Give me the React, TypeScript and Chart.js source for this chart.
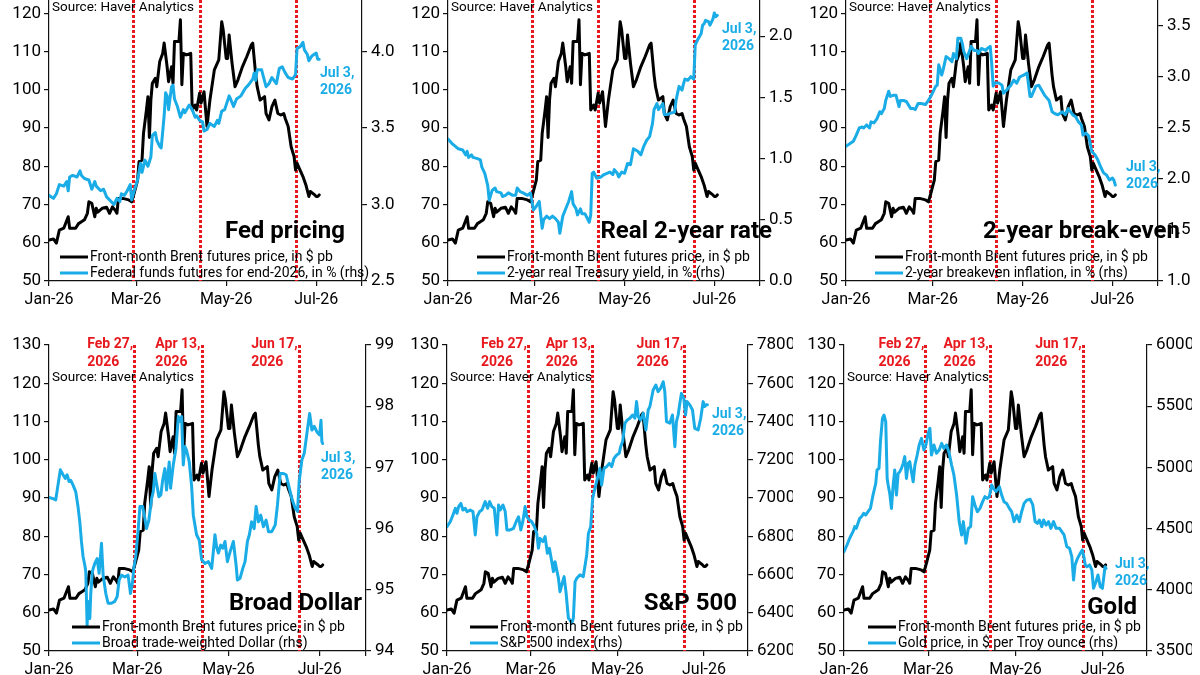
import React, { useEffect, useRef } from 'react';
import { Chart, registerables } from 'chart.js';

Chart.register(...registerables);

const FONT = 'Roboto, "Liberation Sans", sans-serif';
const BLACK = '#000000';
const BLUE = '#1AACE6';
const RED = '#E8191E';

// Horizontal positions are days since 1 Jan 2026.
const monthTickDays = [0, 59, 120, 181, 212];
const monthTickLabels = ['Jan-26', 'Mar-26', 'May-26', 'Jul-26', ''];
const eventDays = [57, 102, 167];
const eventLabels = [['Feb 27,', '2026'], ['Apr 13,', '2026'], ['Jun 17,', '2026']];
const lastDateLabel = ['Jul 3,', '2026'];
const sourceText = 'Source: Haver Analytics';
const brentLegend = 'Front-month Brent futures price, in $ pb';

// Front-month Brent futures, $ per barrel
const brentDay = [0, 3, 5, 7, 10, 13, 14, 18, 20, 22, 24, 26, 27, 29, 31, 32, 33, 36, 39, 41, 43, 45, 46, 47, 50, 54, 56, 58, 60, 61, 63, 64, 66, 67, 68, 69, 70, 72, 73, 75, 77, 78, 80, 81, 83, 84, 85, 88, 89, 90, 91, 93, 96, 97, 99, 100, 102, 103, 105, 107, 109, 112, 115, 117, 118, 120, 121, 122, 124, 126, 128, 131, 132, 134, 137, 138, 140, 141, 143, 146, 147, 149, 151, 153, 155, 157, 159, 160, 162, 164, 166, 167, 168, 169, 172, 174, 176, 177, 180, 181, 182, 183];
const brentPrice = [60.7, 61, 59.9, 63.3, 63.8, 66.8, 63.8, 63.8, 65, 65.5, 66, 67.7, 70.7, 70.3, 66.8, 69, 68, 69, 69.3, 67.7, 69.4, 68.4, 67.7, 71.6, 71.6, 71.2, 70.7, 73.4, 76.4, 81.2, 81.6, 88.6, 94.7, 98.2, 87.5, 97.3, 101.7, 103, 100.8, 107.4, 109.5, 112.2, 106, 102.1, 106, 101.7, 112.6, 112.6, 118.3, 101.3, 109.5, 109.1, 109.5, 94.7, 96, 94.7, 99.1, 96.5, 99.5, 90.4, 97.3, 105.2, 107.8, 117.8, 115.6, 108.2, 108.2, 114.3, 106.9, 100.8, 102.6, 106, 106.9, 108.7, 111.7, 112.2, 103.9, 100.8, 97.3, 98.2, 93.8, 92.1, 95.6, 97.3, 93.8, 93.4, 93.8, 92.5, 90.4, 85.1, 82.5, 79, 80.8, 79.9, 77.3, 75.1, 72.1, 73.4, 72.5, 72.1, 72.1, 72.5];

// Federal funds futures for end-2026, %
const fedDay = [0, 3, 5, 7, 10, 12, 13, 14, 16, 19, 21, 22, 24, 27, 29, 31, 32, 35, 37, 39, 41, 44, 46, 48, 49, 51, 53, 55, 56, 58, 60, 62, 63, 65, 67, 69, 70, 72, 73, 75, 76, 78, 79, 80, 81, 83, 84, 85, 87, 89, 91, 92, 95, 97, 99, 100, 102, 104, 105, 107, 109, 112, 114, 115, 117, 119, 122, 123, 125, 127, 130, 133, 135, 138, 139, 140, 141, 144, 147, 149, 151, 154, 156, 158, 160, 162, 165, 167, 168, 170, 172, 173, 175, 176, 178, 181, 182, 183];
const fedRate = [3.06, 3.04, 3.07, 3.13, 3.12, 3.15, 3.09, 3.18, 3.19, 3.18, 3.22, 3.19, 3.17, 3.16, 3.10, 3.15, 3.12, 3.09, 3.10, 3.05, 3.03, 3.00, 3.04, 3.02, 3.07, 3.06, 3.09, 3.13, 3.03, 3.10, 3.16, 3.27, 3.21, 3.29, 3.25, 3.31, 3.45, 3.47, 3.42, 3.38, 3.37, 3.58, 3.73, 3.71, 3.62, 3.77, 3.78, 3.69, 3.64, 3.57, 3.62, 3.60, 3.65, 3.62, 3.57, 3.58, 3.55, 3.54, 3.48, 3.49, 3.53, 3.51, 3.55, 3.53, 3.61, 3.62, 3.71, 3.69, 3.64, 3.69, 3.71, 3.76, 3.78, 3.82, 3.86, 3.81, 3.88, 3.88, 3.77, 3.79, 3.83, 3.79, 3.89, 3.90, 3.86, 3.83, 3.82, 3.85, 4.02, 4.03, 4.06, 4.01, 3.98, 3.94, 3.97, 3.99, 3.95, 3.95];

// 2-year real Treasury yield, %
const realDay = [0, 3, 5, 7, 10, 12, 13, 14, 16, 17, 20, 22, 23, 25, 27, 28, 30, 32, 33, 36, 37, 39, 41, 44, 46, 47, 49, 51, 54, 56, 57, 58, 60, 62, 64, 65, 67, 69, 71, 73, 75, 76, 78, 80, 82, 84, 85, 87, 88, 90, 91, 93, 96, 97, 98, 99, 101, 104, 106, 108, 110, 112, 113, 115, 116, 118, 120, 122, 124, 126, 129, 131, 133, 135, 137, 139, 140, 142, 143, 146, 147, 149, 151, 154, 155, 157, 159, 160, 161, 163, 165, 167, 168, 170, 172, 173, 174, 175, 177, 178, 180, 181, 182, 183];
const realYield = [1.16, 1.12, 1.10, 1.08, 1.07, 1.03, 1.06, 1.01, 1.03, 1.01, 1.00, 0.99, 0.93, 0.88, 0.78, 0.66, 0.74, 0.76, 0.73, 0.72, 0.69, 0.70, 0.72, 0.70, 0.70, 0.76, 0.73, 0.72, 0.70, 0.72, 0.66, 0.58, 0.61, 0.65, 0.43, 0.50, 0.53, 0.51, 0.53, 0.51, 0.48, 0.39, 0.53, 0.59, 0.65, 0.73, 0.63, 0.59, 0.54, 0.59, 0.55, 0.55, 0.48, 0.54, 0.88, 0.89, 0.84, 0.85, 0.87, 0.88, 0.89, 0.87, 0.91, 0.88, 0.85, 0.89, 0.88, 0.96, 0.95, 1.08, 1.06, 1.03, 1.10, 1.15, 1.18, 1.29, 1.40, 1.45, 1.40, 1.45, 1.36, 1.36, 1.37, 1.38, 1.48, 1.59, 1.56, 1.61, 1.65, 1.64, 1.67, 1.65, 1.93, 1.98, 2.02, 2.09, 2.10, 2.13, 2.12, 2.09, 2.14, 2.19, 2.16, 2.17];

// 2-year breakeven inflation, %
const beDay = [0, 3, 5, 7, 9, 11, 12, 14, 16, 17, 19, 21, 23, 24, 26, 27, 29, 30, 32, 34, 36, 37, 39, 41, 44, 46, 47, 49, 51, 54, 56, 58, 61, 62, 63, 65, 66, 68, 70, 72, 73, 75, 76, 78, 79, 80, 82, 84, 85, 87, 89, 90, 92, 95, 96, 98, 99, 100, 101, 104, 106, 107, 109, 112, 114, 116, 118, 121, 123, 125, 126, 129, 131, 133, 135, 138, 140, 142, 144, 147, 149, 151, 154, 156, 158, 160, 161, 163, 165, 167, 169, 171, 173, 175, 177, 179, 181, 182, 183];
const beRate = [2.32, 2.35, 2.37, 2.43, 2.50, 2.51, 2.50, 2.53, 2.50, 2.56, 2.55, 2.59, 2.66, 2.64, 2.69, 2.77, 2.86, 2.81, 2.82, 2.82, 2.71, 2.77, 2.77, 2.76, 2.69, 2.69, 2.68, 2.74, 2.74, 2.73, 2.77, 2.82, 2.91, 2.92, 3.12, 3.02, 3.07, 3.20, 3.18, 3.15, 3.23, 3.18, 3.38, 3.38, 3.33, 3.25, 3.18, 3.26, 3.30, 3.26, 3.26, 3.23, 3.28, 3.26, 3.28, 3.30, 3.13, 2.91, 2.94, 2.94, 2.92, 2.84, 2.87, 2.92, 2.97, 2.94, 3.00, 3.02, 3.04, 2.81, 2.81, 2.91, 2.92, 2.87, 2.82, 2.77, 2.66, 2.64, 2.63, 2.66, 2.63, 2.69, 2.63, 2.61, 2.56, 2.53, 2.43, 2.45, 2.42, 2.27, 2.24, 2.19, 2.12, 2.06, 2.04, 1.99, 2.01, 1.99, 1.94];

// Broad trade-weighted dollar index
const usdDay = [0, 2.7, 4.5, 6, 7.6, 9.4, 10.9, 12.1, 13.4, 14.5, 16.1, 17.9, 19.4, 20.6, 21.7, 22.8, 23.9, 24.6, 25.5, 26.1, 27.3, 27.9, 29, 30.6, 32.2, 33.5, 35.1, 36.2, 38, 39.5, 41.8, 44, 45.6, 46.9, 48.5, 50.7, 52.9, 54.5, 55.9, 56.7, 58.1, 59.7, 60.8, 62.6, 64.1, 65.2, 66.8, 68.6, 69.7, 70.8, 71.9, 73.5, 74.8, 76, 77.5, 78.6, 80.4, 81.3, 83.1, 84.9, 86.5, 87.6, 88.7, 89.8, 90.9, 92, 93.8, 95.4, 96.5, 98.7, 100.5, 102.1, 104.3, 106.6, 108.8, 111, 112.1, 113.3, 114.8, 116.2, 117.7, 119.3, 121.1, 123.3, 125.1, 126, 127.8, 129.6, 131.1, 132.7, 134, 135.5, 137.2, 138.5, 140.1, 141.6, 143.4, 145.2, 146.8, 149, 151.3, 152.8, 154.6, 156.8, 158.6, 160.2, 162.4, 164.7, 166.2, 167.3, 169.1, 170.7, 172.5, 174.3, 175.8, 177.4, 179.2, 181, 181.9, 182.5, 183];
const usdIndex = [96.51, 96.49, 96.47, 96.71, 96.96, 96.88, 96.82, 96.88, 96.77, 96.79, 96.71, 96.60, 96.36, 96.11, 95.79, 95.54, 95.41, 95.30, 94.42, 94.81, 94.53, 94.92, 95.30, 95.43, 95.51, 95.27, 95.76, 95.24, 94.94, 94.78, 94.78, 94.81, 94.89, 95.16, 95.24, 95.21, 95.24, 94.94, 95.13, 95.35, 95.57, 96.00, 96.36, 96.36, 96.17, 96.00, 96.14, 96.49, 96.60, 96.90, 96.74, 96.52, 96.55, 96.79, 96.98, 96.63, 97.09, 96.66, 97.04, 97.31, 97.83, 97.75, 97.83, 97.04, 97.34, 97.28, 97.09, 96.69, 96.22, 95.90, 95.81, 95.49, 95.43, 95.46, 95.35, 95.90, 95.70, 95.60, 95.73, 95.68, 95.79, 95.46, 95.62, 95.79, 95.41, 95.16, 95.19, 95.35, 95.46, 95.79, 95.90, 96.11, 96.00, 96.36, 96.11, 96.22, 96.03, 96.14, 95.95, 95.95, 96.06, 96.39, 96.90, 96.90, 96.88, 96.71, 96.49, 96.33, 96.28, 96.77, 97.12, 97.23, 97.56, 97.88, 97.61, 97.67, 97.58, 97.53, 97.77, 97.42, 97.39];

// S&P 500 index
const spxDay = [0, 2.3, 4.2, 5.9, 7, 8.2, 9.8, 11.2, 12.9, 14.1, 16.4, 18.3, 19.9, 21.1, 23, 24.6, 26.9, 28.6, 30, 31.6, 33.3, 35.1, 36.3, 37.5, 39.4, 41, 42.2, 44.5, 46.8, 48.7, 50.4, 52, 53.4, 55, 56.2, 58.1, 59.7, 61.6, 63.2, 64.4, 65.6, 67.5, 69.1, 70.7, 72.1, 73.8, 75, 76.1, 78.5, 79.6, 80.8, 82.5, 83.9, 85.5, 86.7, 87.8, 89, 90.2, 91.4, 93.7, 96, 98.4, 99.6, 101.2, 102.6, 104.2, 105.9, 107.7, 108.9, 110.6, 112.4, 114.3, 116, 117.6, 119.5, 121.3, 122.3, 123.7, 125.3, 127, 128.8, 130.7, 132.3, 133.5, 134.7, 136.3, 138.2, 140.1, 141.7, 142.9, 145.2, 147.1, 148.7, 150.4, 152.3, 153.4, 154.6, 156.9, 158.8, 160.5, 161.6, 162.8, 164, 165.1, 166.8, 168, 169.1, 171, 172.9, 174.5, 176.9, 178.7, 180.4, 181.5, 182.6, 183.4];
const spxIndex = [6850, 6876, 6911, 6946, 6920, 6955, 6972, 6937, 6946, 6929, 6937, 6929, 6807, 6902, 6929, 6937, 6981, 6946, 6981, 6955, 6946, 6807, 6963, 6937, 6963, 6929, 6833, 6833, 6841, 6876, 6902, 6833, 6876, 6955, 6902, 6885, 6876, 6850, 6815, 6737, 6789, 6772, 6798, 6711, 6737, 6667, 6615, 6667, 6580, 6510, 6545, 6589, 6502, 6371, 6362, 6345, 6371, 6563, 6580, 6598, 6589, 6702, 6815, 6850, 6998, 7051, 7103, 7155, 7068, 7155, 7164, 7181, 7164, 7207, 7225, 7234, 7268, 7295, 7390, 7408, 7417, 7434, 7417, 7504, 7425, 7408, 7443, 7356, 7460, 7478, 7565, 7591, 7556, 7573, 7608, 7556, 7399, 7391, 7434, 7268, 7399, 7434, 7495, 7547, 7521, 7434, 7504, 7487, 7460, 7364, 7356, 7417, 7504, 7478, 7487, 7487];

// Gold price, $ per troy ounce
const goldDay = [0, 2.1, 3.5, 5.1, 6.3, 7.5, 8.6, 9.8, 11, 12.2, 13.8, 15.2, 16.8, 18.5, 20.3, 22.2, 23.1, 24.5, 25.5, 26.9, 28, 29.2, 30.2, 30.9, 32, 33.2, 34.4, 35.5, 36.7, 37.9, 39, 40.2, 41.4, 42.5, 43.7, 44.9, 46, 48.4, 49.6, 51.2, 52.6, 54.2, 55.9, 57.3, 58.9, 60.1, 61.2, 62.9, 64.7, 66.6, 68.3, 69.9, 71.8, 73.6, 75.3, 76.9, 78.8, 80.6, 82.3, 83.5, 85.3, 87, 88.6, 90, 91.6, 93.3, 95.1, 97, 98.6, 100.3, 101.7, 103.3, 104.5, 106.4, 108.7, 110.3, 112, 113.8, 115.7, 117.3, 119, 120.9, 122.7, 124.3, 126, 127.9, 130.2, 132.1, 133.7, 135.3, 136.7, 138.4, 139.6, 141.4, 143.1, 144.7, 146.6, 148.4, 150.8, 152.4, 154, 155.9, 157.8, 159.4, 160.6, 161.7, 163.4, 165.3, 166.7, 167.6, 168.8, 169.9, 171.8, 173.4, 174.6, 176.3, 177.7, 179.3, 180.8, 181.8, 182.6, 183.3];
const goldPrice = [4311, 4366, 4407, 4448, 4475, 4516, 4502, 4543, 4584, 4597, 4625, 4611, 4638, 4665, 4774, 4870, 4979, 4992, 5210, 5401, 5428, 5373, 4910, 4856, 4788, 4665, 4856, 4979, 4774, 4951, 4965, 4992, 5033, 5088, 4910, 5033, 5047, 4883, 5019, 5101, 5183, 5237, 5142, 5183, 5278, 5319, 5101, 5183, 5115, 5142, 5196, 5155, 5183, 5115, 5019, 4938, 4774, 4557, 4448, 4557, 4380, 4502, 4516, 4761, 4693, 4638, 4665, 4720, 4761, 4747, 4761, 4856, 4829, 4802, 4842, 4774, 4720, 4706, 4665, 4638, 4557, 4611, 4557, 4638, 4706, 4733, 4740, 4693, 4557, 4543, 4570, 4516, 4570, 4529, 4557, 4502, 4557, 4502, 4502, 4475, 4448, 4352, 4339, 4271, 4080, 4203, 4257, 4298, 4325, 4284, 4203, 4189, 4203, 4162, 4012, 4066, 4121, 4026, 4012, 4107, 4189, 4175];

type Panel = {
  title: string;
  legend: string;
  days: number[];
  values: number[];
  rMin: number;
  rMax: number;
  rStep: number;
  decimals: number;
  left: number; // plot-area left edge on the page
  right: number; // plot-area right edge on the page
  row: number;
  titleDx: number;
  titleDy: number;
  noteDx: number;
  noteDy: number;
  legendDx: number;
};

const panels: Panel[] = [
  { title: 'Fed pricing', legend: 'Federal funds futures for end-2026, in % (rhs)', days: fedDay, values: fedRate, rMin: 2.5, rMax: 4.5, rStep: 0.5, decimals: 1, left: 49, right: 362, row: 0, titleDx: -17, titleDy: 257, noteDx: 271, noteDy: 98, legendDx: 11 },
  { title: 'Real 2-year rate', legend: '2-year real Treasury yield, in % (rhs)', days: realDay, values: realYield, rMin: 0, rMax: 2.5, rStep: 0.5, decimals: 1, left: 448, right: 760, row: 0, titleDx: 12, titleDy: 257, noteDx: 274, noteDy: 54, legendDx: 29 },
  { title: '2-year break-even', legend: '2-year breakeven inflation, in % (rhs)', days: beDay, values: beRate, rMin: 1, rMax: 4, rStep: 0.5, decimals: 1, left: 846, right: 1158, row: 0, titleDx: 22, titleDy: 257, noteDx: 280, noteDy: 192, legendDx: 29 },
  { title: 'Broad Dollar', legend: 'Broad trade-weighted Dollar (rhs)', days: usdDay, values: usdIndex, rMin: 94, rMax: 99, rStep: 1, decimals: 0, left: 49, right: 366, row: 1, titleDx: -4, titleDy: 259, noteDx: 272, noteDy: 113, legendDx: 23 },
  { title: 'S&P 500', legend: 'S&P 500 index (rhs)', days: spxDay, values: spxIndex, rMin: 6200, rMax: 7800, rStep: 200, decimals: 0, left: 447, right: 748, row: 1, titleDx: -11, titleDy: 259, noteDx: 265, noteDy: 69, legendDx: 23 },
  { title: 'Gold', legend: 'Gold price, in $ per Troy ounce (rhs)', days: goldDay, values: goldPrice, rMin: 3500, rMax: 6000, rStep: 500, decimals: 0, left: 844, right: 1147, row: 1, titleDx: -10, titleDy: 263, noteDx: 271, noteDy: 219, legendDx: 24 },
];

const LEFT_AXIS_W = 49;
const RIGHT_AXIS_W = 45;
const TOP_PAD = 20;
const BOTTOM_AXIS_H = 34;
const CANVAS_H = 360;
const ROW_TOP = [-45, 325];

const zip = (xs: number[], ys: number[]) => xs.map((x, i) => ({ x, y: ys[i] }));

function PanelChart({ p }: { p: Panel }) {
  const ref = useRef<HTMLCanvasElement | null>(null);
  const width = p.right - p.left + LEFT_AXIS_W + RIGHT_AXIS_W;

  useEffect(() => {
    const canvas = ref.current;
    if (!canvas) return;

    const overlay = {
      id: 'overlay',
      beforeDatasetsDraw(chart: any) {
        const { ctx, chartArea, scales } = chart;
        ctx.save();
        ctx.strokeStyle = RED;
        ctx.lineWidth = 3;
        ctx.setLineDash([3, 2]);
        eventDays.forEach((d) => {
          const x = Math.round(scales.x.getPixelForValue(d)) + 0.5;
          ctx.beginPath();
          ctx.moveTo(x, chartArea.top);
          ctx.lineTo(x, chartArea.bottom);
          ctx.stroke();
        });
        ctx.restore();
      },
      afterDatasetsDraw(chart: any) {
        const { ctx, chartArea, scales } = chart;
        const L = chartArea.left;
        const R = chartArea.right;
        const T = chartArea.top;
        const B = chartArea.bottom;
        ctx.save();
        ctx.textBaseline = 'middle';

        // event labels above the dotted lines
        ctx.font = `bold 14px ${FONT}`;
        ctx.fillStyle = RED;
        ctx.textAlign = 'left';
        eventDays.forEach((d, i) => {
          const x = scales.x.getPixelForValue(d);
          const w = ctx.measureText(eventLabels[i][0]).width;
          const lx = x - 1 - w;
          ctx.fillText(eventLabels[i][0], lx, T - 1);
          ctx.fillText(eventLabels[i][1], lx, T + 17);
        });

        // source note
        ctx.font = `13.5px ${FONT}`;
        ctx.fillStyle = BLACK;
        ctx.fillText(sourceText, L + 3, T + 33);

        // legend
        const items = [
          { color: BLACK, text: brentLegend, y: B - 24 },
          { color: BLUE, text: p.legend, y: B - 8 },
        ];
        items.forEach((it) => {
          ctx.strokeStyle = it.color;
          ctx.lineWidth = 3;
          ctx.beginPath();
          ctx.moveTo(L + p.legendDx, it.y);
          ctx.lineTo(L + p.legendDx + 28, it.y);
          ctx.stroke();
          ctx.fillStyle = BLACK;
          ctx.font = `14px ${FONT}`;
          ctx.fillText(it.text, L + p.legendDx + 30, it.y);
        });

        // panel title
        ctx.font = `bold 24px ${FONT}`;
        ctx.fillStyle = BLACK;
        ctx.textAlign = 'right';
        ctx.fillText(p.title, R + p.titleDx, T + p.titleDy);

        // latest-date note
        ctx.font = `bold 14px ${FONT}`;
        ctx.fillStyle = BLUE;
        ctx.textAlign = 'left';
        ctx.fillText(lastDateLabel[0], L + p.noteDx, T + p.noteDy);
        ctx.fillText(lastDateLabel[1], L + p.noteDx, T + p.noteDy + 17);
        ctx.restore();
      },
    };

    const axisStyle = {
      grid: { display: true, drawOnChartArea: false, drawTicks: true, tickLength: 5, color: '#111', lineWidth: 1.2 },
      border: { display: true, color: '#111', width: 1.2 },
    };

    const chart = new Chart(canvas, {
      type: 'line',
      data: {
        datasets: [
          {
            label: brentLegend,
            data: zip(brentDay, brentPrice),
            borderColor: BLACK,
            yAxisID: 'y',
            order: 2,
          },
          {
            label: p.legend,
            data: zip(p.days, p.values),
            borderColor: BLUE,
            yAxisID: 'y1',
            order: 1,
          },
        ],
      },
      options: {
        responsive: false,
        animation: false,
        devicePixelRatio: 1,
        layout: { padding: { top: TOP_PAD, left: 0, right: 0, bottom: 0 } },
        elements: {
          point: { radius: 0, hoverRadius: 0 },
          line: { borderWidth: 3, tension: 0, borderJoinStyle: 'round', borderCapStyle: 'round' },
        },
        plugins: { legend: { display: false }, tooltip: { enabled: false } },
        events: [],
        scales: {
          x: {
            type: 'linear',
            position: 'bottom',
            min: 0,
            max: 212,
            ...axisStyle,
            afterBuildTicks: (s: any) => {
              s.ticks = monthTickDays.map((v) => ({ value: v }));
            },
            afterFit: (s: any) => {
              s.height = BOTTOM_AXIS_H;
            },
            ticks: {
              autoSkip: false,
              maxRotation: 0,
              minRotation: 0,
              padding: 4,
              color: '#000',
              font: { family: FONT, size: 16 },
              callback: (_v: any, i: number) => monthTickLabels[i],
            },
          },
          y: {
            type: 'linear',
            position: 'left',
            min: 50,
            max: 130,
            ...axisStyle,
            afterFit: (s: any) => {
              s.width = LEFT_AXIS_W;
            },
            ticks: {
              stepSize: 10,
              padding: 3,
              color: '#000',
              font: { family: FONT, size: 17 },
              callback: (v: any) => String(v),
            },
          },
          y1: {
            type: 'linear',
            position: 'right',
            min: p.rMin,
            max: p.rMax,
            ...axisStyle,
            afterFit: (s: any) => {
              s.width = RIGHT_AXIS_W;
            },
            ticks: {
              stepSize: p.rStep,
              padding: 4,
              color: '#000',
              font: { family: FONT, size: 17 },
              callback: (v: any) => Number(v).toFixed(p.decimals),
            },
          },
        },
      },
      plugins: [overlay],
    } as any);

    return () => chart.destroy();
  }, [p]);

  return (
    <canvas
      ref={ref}
      width={width}
      height={CANVAS_H}
      style={{ position: 'absolute', left: p.left - LEFT_AXIS_W, top: ROW_TOP[p.row], width, height: CANVAS_H }}
    />
  );
}

export default function App() {
  return (
    <div
      style={{
        position: 'fixed',
        left: 0,
        top: 0,
        width: 1200,
        height: 675,
        overflow: 'hidden',
        background: '#ffffff',
      }}
    >
      {panels.map((p, i) => (
        <PanelChart key={i} p={p} />
      ))}
    </div>
  );
}
